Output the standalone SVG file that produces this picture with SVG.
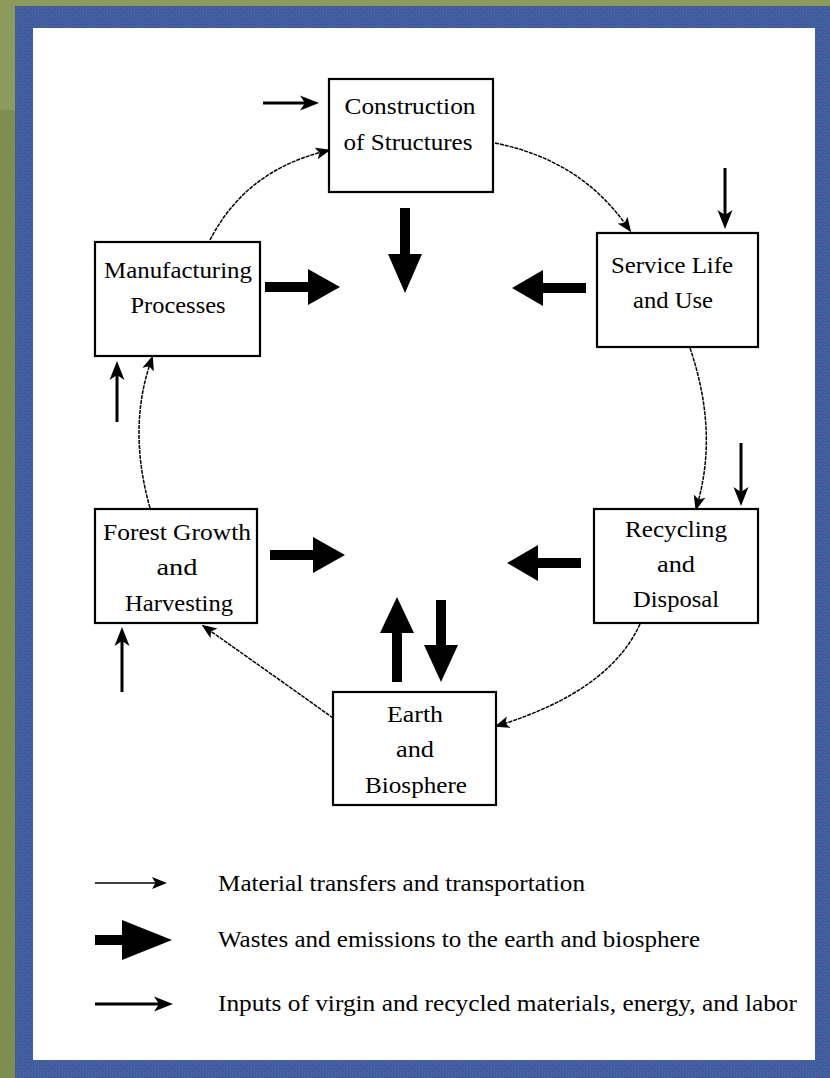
<svg xmlns="http://www.w3.org/2000/svg" width="830" height="1078" viewBox="0 0 830 1078">
<defs>
<pattern id="bluetex" width="6" height="6" patternUnits="userSpaceOnUse">
<rect width="6" height="6" fill="#3d63a2"/>
<rect x="0" y="0" width="2" height="2" fill="#5a4f9e"/>
<rect x="3" y="3" width="2" height="2" fill="#5a4f9e"/>
<rect x="3" y="0" width="1" height="1" fill="#2f4f8c"/>
<rect x="0" y="3" width="1" height="1" fill="#2f4f8c"/>
</pattern>
<marker id="thin" markerUnits="userSpaceOnUse" markerWidth="16" markerHeight="14" viewBox="0 -7 16 14" refX="6" refY="0" orient="auto">
<path d="M0,-6 L15,0 L0,6 L3.5,0 Z" fill="#000"/>
</marker>
<marker id="inp" markerUnits="userSpaceOnUse" markerWidth="20" markerHeight="16" viewBox="0 -8 20 16" refX="9" refY="0" orient="auto">
<path d="M0,-7.5 L19,0 L0,7.5 L5,0 Z" fill="#000"/>
</marker>
</defs>
<style>
.box{fill:#fff;stroke:#000;stroke-width:2.2}
.lbl{font-family:"Liberation Serif","Times New Roman",serif;font-size:24px;fill:#000;text-anchor:middle}
.leg{font-family:"Liberation Serif","Times New Roman",serif;font-size:23px;fill:#000}
.flow{fill:none;stroke:#000;stroke-width:1.5;stroke-dasharray:4 1;marker-end:url(#thin)}
.input{fill:none;stroke:#000;stroke-width:3;marker-end:url(#inp)}
.waste{fill:#000}
</style>
<rect width="830" height="1078" fill="#8c9a5c"/>
<rect x="0" y="110" width="15" height="968" fill="#7f8d50"/>
<rect x="15" y="6" width="815" height="1072" fill="url(#bluetex)"/>
<rect x="33" y="28" width="782" height="1032" fill="#fff"/>

<g id="connectors">
<path class="flow" d="M210,240 Q245,172 322,152"/>
<path class="flow" d="M495,143 Q580,160 626,225"/>
<path class="flow" d="M690,348 Q718,430 698,502"/>
<path class="flow" d="M640,624 Q610,690 503,724"/>
<path class="flow" d="M333,718 Q280,680 209,630"/>
<path class="flow" d="M150,508 Q128,430 150,364"/>

<path class="input" d="M263,103 L309,103"/>
<path class="input" d="M725,168 L725,219"/>
<path class="input" d="M741,443 L741,496"/>
<path class="input" d="M117,422 L117,371"/>
<path class="input" d="M122,692 L122,637"/>

<polygon class="waste" points="400,208 410,208 410,254 422,254 405,293 388,254 400,254"/>
<polygon class="waste" points="265,282 308,282 308,269 340,287 308,305 308,292 265,292"/>
<polygon class="waste" points="586,283 543,283 543,270 512,288 543,306 543,293 586,293"/>
<polygon class="waste" points="270,550 313,550 313,537 345,555 313,573 313,560 270,560"/>
<polygon class="waste" points="581,558 538,558 538,545 507,563 538,581 538,568 581,568"/>
<polygon class="waste" points="392,682 392,633 380,633 397,597 414,633 402,633 402,682"/>
<polygon class="waste" points="436,600 446,600 446,645 458,645 441,682 424,645 436,645"/>
</g>

<g id="construction">
<rect class="box" x="329" y="79" width="164" height="113"/>
<text class="lbl" x="410" y="114" textLength="131" lengthAdjust="spacingAndGlyphs">Construction</text>
<text class="lbl" x="408" y="150" textLength="129" lengthAdjust="spacingAndGlyphs">of Structures</text>
</g>
<g id="manufacturing">
<rect class="box" x="95" y="242" width="165" height="114"/>
<text class="lbl" x="178" y="278" textLength="148" lengthAdjust="spacingAndGlyphs">Manufacturing</text>
<text class="lbl" x="178" y="313" textLength="95" lengthAdjust="spacingAndGlyphs">Processes</text>
</g>
<g id="service">
<rect class="box" x="597" y="233" width="161" height="114"/>
<text class="lbl" x="672" y="273" textLength="122" lengthAdjust="spacingAndGlyphs">Service Life</text>
<text class="lbl" x="673" y="308" textLength="80" lengthAdjust="spacingAndGlyphs">and Use</text>
</g>
<g id="forest">
<rect class="box" x="95" y="509" width="162" height="114"/>
<text class="lbl" x="177" y="540" textLength="148" lengthAdjust="spacingAndGlyphs">Forest Growth</text>
<text class="lbl" x="177" y="575" textLength="41" lengthAdjust="spacingAndGlyphs">and</text>
<text class="lbl" x="179" y="611" textLength="108" lengthAdjust="spacingAndGlyphs">Harvesting</text>
</g>
<g id="recycling">
<rect class="box" x="594" y="509" width="164" height="114"/>
<text class="lbl" x="676" y="537" textLength="102" lengthAdjust="spacingAndGlyphs">Recycling</text>
<text class="lbl" x="676" y="572" textLength="38" lengthAdjust="spacingAndGlyphs">and</text>
<text class="lbl" x="676" y="607" textLength="86" lengthAdjust="spacingAndGlyphs">Disposal</text>
</g>
<g id="earth">
<rect class="box" x="333" y="692" width="163" height="113"/>
<text class="lbl" x="415" y="722" textLength="56" lengthAdjust="spacingAndGlyphs">Earth</text>
<text class="lbl" x="415" y="757" textLength="38" lengthAdjust="spacingAndGlyphs">and</text>
<text class="lbl" x="416" y="793" textLength="102" lengthAdjust="spacingAndGlyphs">Biosphere</text>
</g>

<g id="legend">
<path class="flow" style="stroke-dasharray:none" d="M95,883 L158,883"/>
<polygon class="waste" points="95,935 122,935 122,920 172,940 122,960 122,945 95,945"/>
<path class="input" d="M95,1004 L163,1004"/>
<text class="leg" x="218" y="891" textLength="367" lengthAdjust="spacingAndGlyphs">Material transfers and transportation</text>
<text class="leg" x="218" y="947" textLength="482" lengthAdjust="spacingAndGlyphs">Wastes and emissions to the earth and biosphere</text>
<text class="leg" x="218" y="1011" textLength="579" lengthAdjust="spacingAndGlyphs">Inputs of virgin and recycled materials, energy, and labor</text>
</g>
</svg>
